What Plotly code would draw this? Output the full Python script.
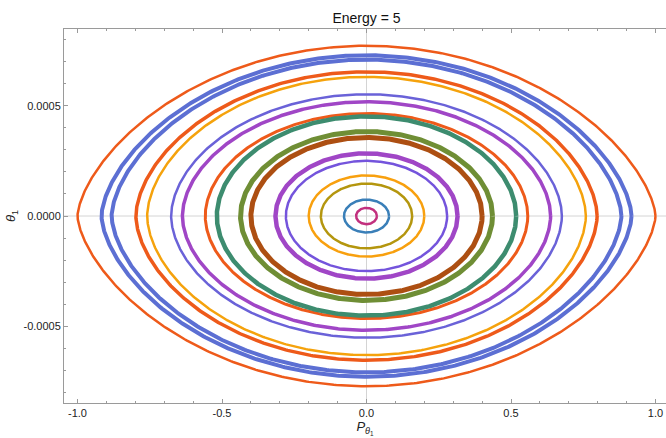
import numpy as np
import plotly.graph_objects as go

# Orbits of the Poincaré section, listed from outermost to innermost
half_width = [1.0, 0.917, 0.882, 0.798, 0.759, 0.676, 0.637, 0.558, 0.518,
              0.436, 0.400, 0.315, 0.279, 0.200, 0.158, 0.078, 0.036]
half_height = [7.72e-4, 7.29e-4, 7.09e-4, 6.54e-4, 6.31e-4, 5.52e-4, 5.18e-4,
               4.65e-4, 4.52e-4, 3.83e-4, 3.56e-4, 2.84e-4, 2.50e-4, 1.84e-4,
               1.47e-4, 0.745e-4, 0.37e-4]
roundness = [0.64, 0.61, 0.60, 0.57, 0.56, 0.54, 0.535, 0.52, 0.515,
             0.51, 0.505, 0.50, 0.50, 0.50, 0.50, 0.50, 0.50]
colors = ["#EE5A1A", "#5C6FD3", "#5C6FD3", "#EE5A1A", "#F5A20C", "#6A62D8",
          "#A046C6", "#EE5A1A", "#3D8C6F", "#6F8E35", "#AD4F12", "#A046C6",
          "#7454DC", "#F8A00E", "#B4960E", "#3A7FB8", "#C2307E"]
widths = [2.5, 4, 4, 3.5, 2.5, 2.5, 3.5, 3, 4.5, 5, 5, 4.5, 2.5, 2.5, 2.5, 2.5, 2.5]

x_ticks = [-1.0, -0.5, 0.0, 0.5, 1.0]
x_ticktext = ["-1.0", "-0.5", "0.0", "0.5", "1.0"]
y_ticks = [-0.0005, 0.0, 0.0005]
y_ticktext = ["-0.0005", "0.0000", "0.0005"]

t = np.linspace(0, 2 * np.pi, 721)
fig = go.Figure()
for a, b, p, c, w in zip(half_width, half_height, roundness, colors, widths):
    s = np.sin(t)
    fig.add_trace(go.Scatter(
        x=a * np.cos(t),
        y=b * np.sign(s) * np.abs(s) ** (2 * p),
        mode="lines", line=dict(color=c, width=w),
        hoverinfo="skip", showlegend=False))

font_family = "Liberation Sans, Arial, sans-serif"
fig.update_layout(
    width=666, height=438,
    margin=dict(l=64, r=0, t=29, b=35),
    paper_bgcolor="white", plot_bgcolor="white",
    title=dict(text="Energy = 5", x=(366.5 - 64) / 602, xref="paper",
               xanchor="center", y=1 - 18 / 438, yanchor="middle",
               font=dict(family=font_family, size=14, color="#111")),
    font=dict(family=font_family, size=11, color="#222"),
)
fig.update_xaxes(
    range=[-1.0467, 1.0363], showgrid=False,
    zeroline=False, showline=True, linecolor="#9a9a9a", linewidth=1,
    mirror="ticks", ticks="inside", ticklen=4, tickcolor="#9a9a9a",
    tickvals=x_ticks, ticktext=x_ticktext,
    minor=dict(ticks="inside", ticklen=2, dtick=0.1, tickcolor="#9a9a9a", showgrid=False),
    title=dict(text="<i>P</i><sub><i>θ</i><sub>1</sub></sub>", standoff=2,
               font=dict(family=font_family, size=13, color="#222")),
)
fig.update_yaxes(
    range=[-0.000848, 0.000848], showgrid=False,
    zeroline=False, showline=True, linecolor="#9a9a9a", linewidth=1,
    ticks="inside", ticklen=4, tickcolor="#9a9a9a",
    tickvals=y_ticks, ticktext=y_ticktext,
    minor=dict(ticks="inside", ticklen=2, dtick=0.0001, tickcolor="#9a9a9a", showgrid=False),
    title=dict(text="<i>θ</i><sub>1</sub>", standoff=4,
               font=dict(family=font_family, size=13, color="#222")),
)
# origin axes (light gray), drawn beneath the data
fig.add_hline(y=0, line=dict(color="#d4d4d4", width=1), layer="below")
fig.add_vline(x=0, line=dict(color="#d4d4d4", width=1), layer="below")

fig.write_html("out.html")
